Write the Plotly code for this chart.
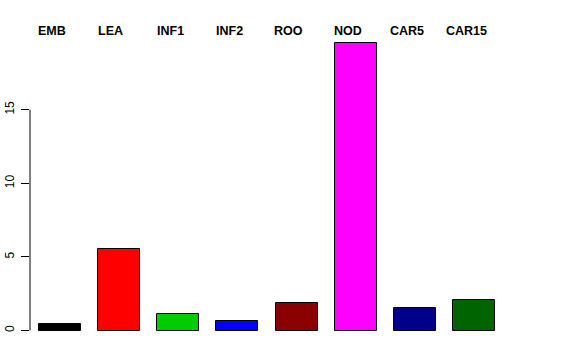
import plotly.graph_objects as go

categories = ["EMB", "LEA", "INF1", "INF2", "ROO", "NOD", "CAR5", "CAR15"]
values = [0.42, 5.52, 1.09, 0.68, 1.88, 19.5, 1.54, 2.04]
colors = ["#000000", "#FF0000", "#00CD00", "#0000FF", "#8B0000", "#FF00FF", "#00008B", "#006400"]
ytick_vals = [0, 5, 10, 15]
ytick_text = ["0", "5", "10", "15"]

xpos = list(range(len(categories)))

fig = go.Figure()
fig.add_trace(go.Bar(
    x=xpos, y=values, width=0.71,
    marker=dict(color=colors, line=dict(color="#000000", width=1)),
    showlegend=False, hoverinfo="skip",
))

for i, c in enumerate(categories):
    fig.add_annotation(x=i, y=1, xref="x", yref="paper", text="<b>%s</b>" % c,
                       showarrow=False, xanchor="center", yanchor="middle",
                       xshift=-8, yshift=1,
                       font=dict(family="Liberation Sans, Arial, sans-serif", size=12.5, color="#000000"))

fig.add_shape(type="line", xref="paper", yref="y", x0=0, x1=0, y0=0, y1=15,
              line=dict(color="#000000", width=1))

fig.update_layout(
    width=576, height=360,
    margin=dict(l=30, r=72, t=32, b=18, pad=0),
    plot_bgcolor="white", paper_bgcolor="white",
    font=dict(family="Liberation Sans, Arial, sans-serif", size=11, color="#000000"),
    xaxis=dict(range=[-0.5, 7.5], visible=False, showgrid=False, zeroline=False, automargin=False),
    yaxis=dict(range=[-0.78, 20.28], tickvals=ytick_vals, ticktext=ytick_text,
               tickangle=-90, ticks="outside", ticklen=8, tickcolor="#000000", tickwidth=1,
               showgrid=False, zeroline=False, showline=False, automargin=False,
               ticklabelstandoff=2,
               tickfont=dict(size=12, color="#000000")),
    bargap=0,
)

fig.write_html("out.html")
